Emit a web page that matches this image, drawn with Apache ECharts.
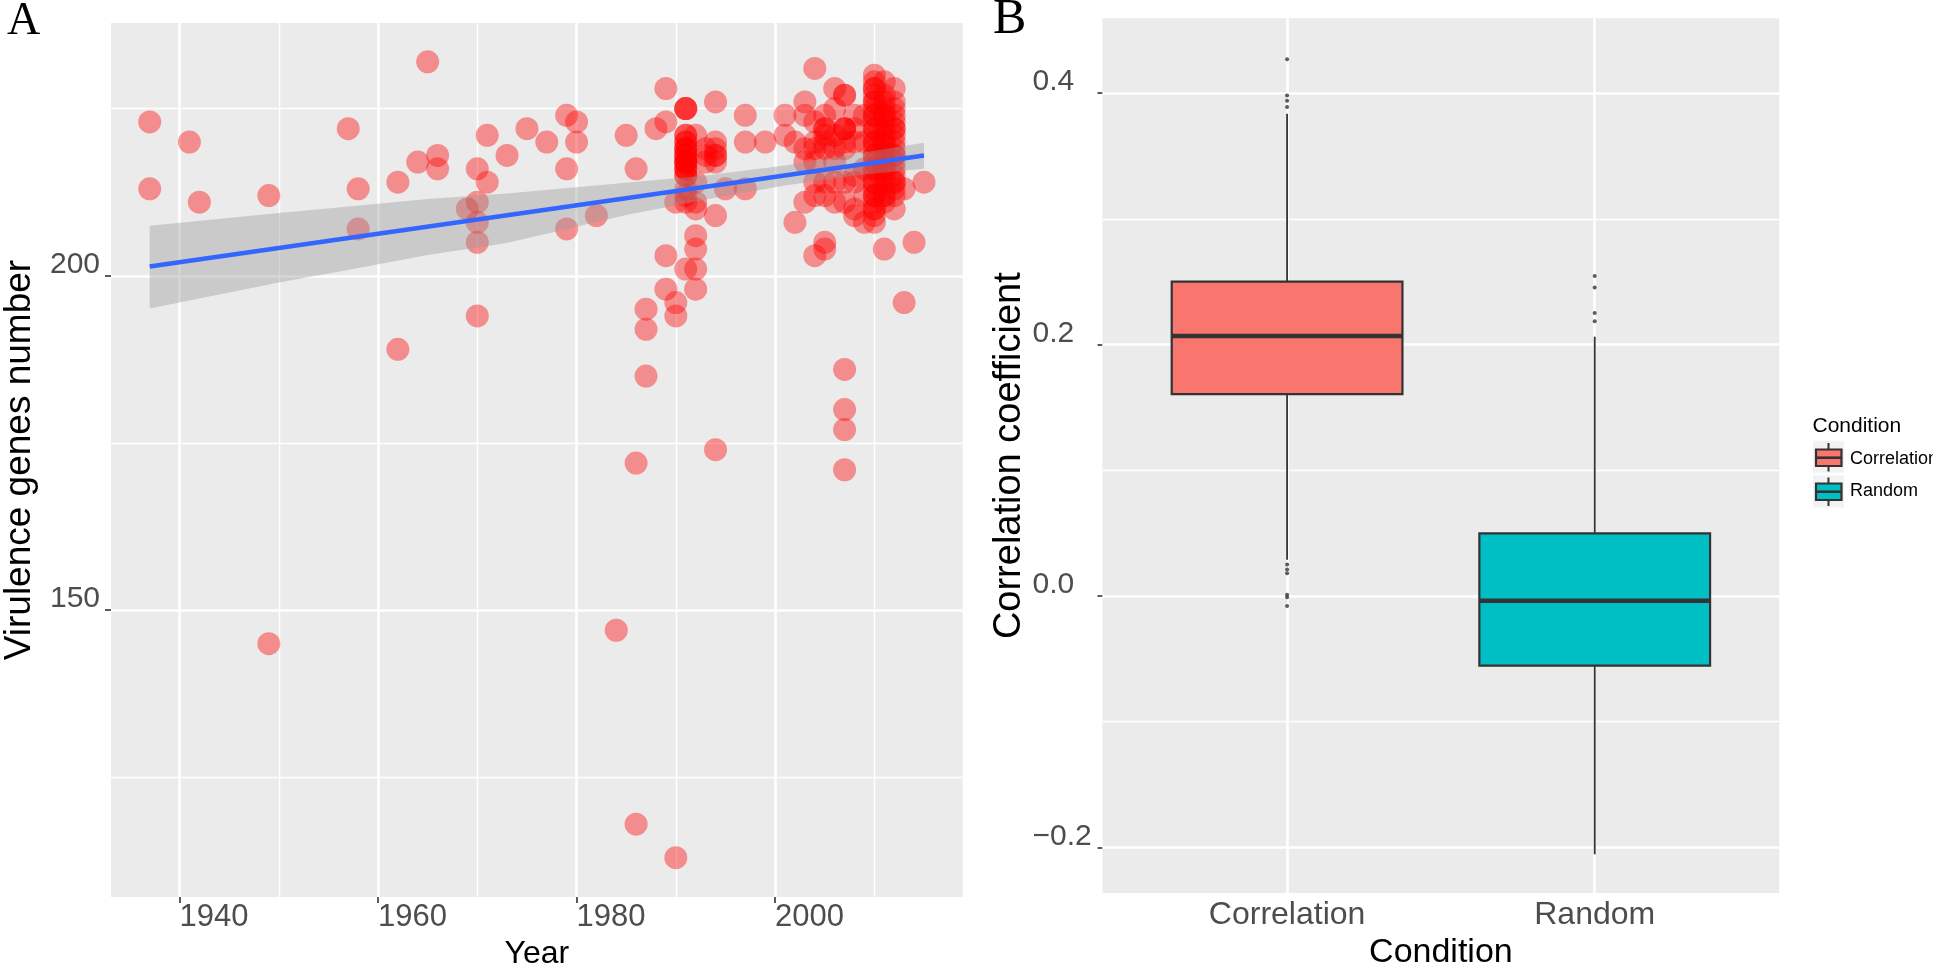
<!DOCTYPE html>
<html>
<head>
<meta charset="utf-8">
<script src="https://cdn.jsdelivr.net/npm/echarts@6/dist/echarts.min.js"></script>
<style>
html,body{margin:0;padding:0;background:#ffffff;}
#chart{width:1933px;height:975px;}
</style>
</head>
<body>
<div id="chart"></div>
<script>
// ---------------- Panel A data ----------------
const yearTicks = [1940, 1960, 1980, 2000];
const yearMinorLines = [1950, 1970, 1990, 2010];
const geneTicks = [150, 200];
const geneMinorLines = [125, 175, 225];

const virulencePoints = [
  [1937,223],[1937,213],[1941,220],[1942,211],[1949,212],[1949,145],
  [1957,222],[1958,213],[1958,207],[1962,214],[1962,189],[1964,217],[1965,232],[1966,218],[1966,216],
  [1969,210],[1970,216],[1970,211],[1970,208],[1970,205],[1970,194],[1971,221],[1971,214],
  [1973,218],[1975,222],[1977,220],[1979,224],[1979,216],[1979,207],[1980,223],[1980,220],[1982,209],
  [1984,147],[1985,221],[1986,216],[1986,172],[1986,118],[1987,195],[1987,192],[1987,185],
  [1988,222],[1989,228],[1989,223],[1989,203],[1989,198],
  [1990,211],[1990,196],[1990,194],[1990,113],
  [1991,225],[1991,225],[1991,225],[1991,221],[1991,220],[1991,219],[1991,218],[1991,218],[1991,217],
  [1991,217],[1991,216],[1991,216],[1991,215],[1991,213],[1991,212],[1991,211],[1991,201],
  [1991,221],[1991,220],[1991,219],[1991,218],[1991,217],[1991,216],[1991,215],[1991,219],[1991,217],
  [1992,221],[1992,214],[1992,211],[1992,210],[1992,206],[1992,204],[1992,201],[1992,198],
  [1993,219],[1993,218],[1993,217],
  [1994,226],[1994,220],[1994,219],[1994,218],[1994,217],[1994,218],[1994,209],[1994,174],
  [1995,213],[1997,224],[1997,220],[1997,213],[1999,220],
  [2001,224],[2001,221],[2002,220],[2002,208],
  [2003,226],[2003,224],[2003,219],[2003,217],[2003,211],
  [2004,231],[2004,223],[2004,220],[2004,219],[2004,217],[2004,214],[2004,212],[2004,203],
  [2005,224],[2005,222],[2005,222],[2005,221],[2005,220],[2005,219],[2005,214],[2005,212],[2005,205],[2005,204],
  [2006,228],[2006,225],[2006,221],[2006,219],[2006,217],[2006,214],[2006,211],
  [2007,227],[2007,227],[2007,222],[2007,222],[2007,222],[2007,220],[2007,219],[2007,214],[2007,211],
  [2007,186],[2007,180],[2007,177],[2007,171],
  [2008,224],[2008,222],[2008,220],[2008,215],[2008,214],[2008,210],[2008,209],
  [2009,224],[2009,220],[2009,216],[2009,212],[2009,208],
  [2010,230],[2010,229],[2010,228],[2010,227],[2010,226],[2010,225],[2010,224],[2010,223],[2010,222],
  [2010,221],[2010,220],[2010,219],[2010,218],[2010,217],[2010,216],[2010,215],[2010,214],[2010,213],
  [2010,212],[2010,211],[2010,210],[2010,209],[2010,208],[2010,224],[2010,220],[2010,216],[2010,212],
  [2010,222],[2010,218],[2010,214],[2010,210],[2010,226],[2010,228],
  [2011,229],[2011,227],[2011,226],[2011,225],[2011,224],[2011,223],[2011,222],[2011,221],[2011,220],
  [2011,219],[2011,218],[2011,217],[2011,216],[2011,215],[2011,214],[2011,213],[2011,212],[2011,211],
  [2011,220],[2011,216],[2011,212],[2011,224],[2011,204],
  [2012,228],[2012,226],[2012,225],[2012,224],[2012,223],[2012,222],[2012,221],[2012,220],[2012,219],
  [2012,218],[2012,217],[2012,216],[2012,215],[2012,214],[2012,213],[2012,212],[2012,210],
  [2012,222],[2012,218],[2012,214],
  [2013,213],[2013,196],[2014,205],[2015,214]
];

const fitLine = [[1937, 201.4], [2015, 218.0]];
const bandYears = [1937, 1950, 1956, 1965, 1973, 1985, 1993, 2001, 2008, 2015];
const bandLower = [195.1, 199.0, 200.6, 203.1, 204.9, 209.1, 211.4, 213.5, 215.0, 216.0];
const bandUpper = [207.5, 209.4, 210.2, 211.5, 212.3, 213.9, 215.0, 216.5, 218.2, 219.9];

// ---------------- Panel B data ----------------
const conditions = ['Correlation', 'Random'];
const boxColors = ['#F8766D', '#00BFC4'];
// [lower whisker, Q1, median, Q3, upper whisker]
const correlationBox = [0.0287, 0.1605, 0.2068, 0.2500, 0.3835];
const randomBox = [-0.2055, -0.0555, -0.0039, 0.0497, 0.2062];
const correlationOutliers = [0.427, 0.398, 0.394, 0.389, 0.025, 0.021, 0.018, 0.001, -0.001, -0.008];
const randomOutliers = [0.2545, 0.2453, 0.2251, 0.2186];
const coefTicks = [-0.2, 0.0, 0.2, 0.4];
const coefMinorLines = [-0.1, 0.1, 0.3];

// ---------------- styling ----------------
const FONT = '"Liberation Sans", Arial, Helvetica, sans-serif';
const SERIF = '"Liberation Serif", "Times New Roman", serif';
const PANEL = '#EBEBEB';
const TICK = '#333333';
const LABEL = '#4D4D4D';
const MAJOR_W = 2.6, MINOR_W = 1.4;

function gridLineData(key, majors, minors) {
  return majors.map(v => ({ [key]: v, lineStyle: { width: MAJOR_W } }))
    .concat(minors.map(v => ({ [key]: v, lineStyle: { width: MINOR_W } })));
}
function markGrid(data) {
  return {
    silent: true, z: 1, symbol: ['none', 'none'], animation: false,
    label: { show: false }, emphasis: { disabled: true },
    lineStyle: { color: '#FFFFFF', type: 'solid', width: MAJOR_W },
    data: data
  };
}

const boxData = [[1].concat(correlationBox), [2].concat(randomBox)];
const outlierData = correlationOutliers.map(v => [1, v]).concat(randomOutliers.map(v => [2, v]));

const chart = echarts.init(document.getElementById('chart'), null, { renderer: 'canvas' });

const option = {
  animation: false,
  backgroundColor: '#FFFFFF',
  textStyle: { fontFamily: FONT },
  grid: [
    { left: 103, top: 23, width: 859.7, height: 884.3, show: true, backgroundColor: PANEL, borderWidth: 0 },
    { left: 1102.5, top: 18.3, width: 676.8, height: 886, show: true, backgroundColor: PANEL, borderWidth: 0 }
  ],
  xAxis: [
    {
      type: 'value', gridIndex: 0, min: 1933.1, max: 2018.9,
      name: 'Year', nameLocation: 'middle', nameGap: 40,
      nameTextStyle: { fontSize: 32, color: '#000', fontFamily: FONT },
      axisLine: { show: false }, splitLine: { show: false },
      axisTick: { show: true, length: 6, customValues: yearTicks, lineStyle: { color: TICK, width: 1.6 } },
      axisLabel: { customValues: yearTicks, fontSize: 31, color: LABEL, fontFamily: FONT, align: 'left', margin: 5,
        formatter: v => String(Math.round(v)) }
    },
    {
      type: 'value', gridIndex: 1, min: 0.4, max: 2.6,
      name: 'Condition', nameLocation: 'middle', nameGap: 40,
      nameTextStyle: { fontSize: 34, color: '#000', fontFamily: FONT },
      axisLine: { show: false }, splitLine: { show: false },
      axisTick: { show: true, length: 7, customValues: [1, 2], lineStyle: { color: TICK, width: 1.6 } },
      axisLabel: { customValues: [1, 2], fontSize: 32, color: LABEL, fontFamily: FONT, margin: 6,
        formatter: v => conditions[Math.round(v) - 1] }
    }
  ],
  yAxis: [
    {
      type: 'value', gridIndex: 0, min: 107.1, max: 237.8,
      name: 'Virulence genes number', nameLocation: 'middle', nameGap: 73,
      nameTextStyle: { fontSize: 37, color: '#000', fontFamily: FONT },
      axisLine: { show: false }, splitLine: { show: false },
      axisTick: { show: true, length: 6, customValues: geneTicks, lineStyle: { color: TICK, width: 1.6 } },
      axisLabel: { customValues: geneTicks, fontSize: 30, color: LABEL, fontFamily: FONT, margin: 11,
        verticalAlign: 'bottom', lineHeight: 22 }
    },
    {
      type: 'value', gridIndex: 1, min: -0.2364, max: 0.4595,
      name: 'Correlation coefficient', nameLocation: 'middle', nameGap: 70,
      nameTextStyle: { fontSize: 38, color: '#000', fontFamily: FONT },
      axisLine: { show: false }, splitLine: { show: false },
      axisTick: { show: true, length: 5, customValues: coefTicks, lineStyle: { color: TICK, width: 1.6 } },
      axisLabel: { customValues: coefTicks, fontSize: 30, color: LABEL, fontFamily: FONT, margin: 70,
        align: 'left', verticalAlign: 'bottom', lineHeight: 22,
        formatter: v => v.toFixed(1).replace('-', '\u2212') }
    }
  ],
  series: [
    {
      type: 'scatter', name: 'genomes', xAxisIndex: 0, yAxisIndex: 0, z: 3,
      data: virulencePoints, symbol: 'circle', symbolSize: 23,
      itemStyle: { color: 'rgba(255,0,0,0.5)' },
      emphasis: { disabled: true },
      markLine: markGrid(gridLineData('xAxis', yearTicks, yearMinorLines)
        .concat(gridLineData('yAxis', geneTicks, geneMinorLines)))
    },
    {
      type: 'custom', name: 'band', xAxisIndex: 0, yAxisIndex: 0, z: 4, silent: true,
      data: [[bandYears[0], bandLower[0]]],
      encode: { x: 0, y: 1 },
      renderItem: function (params, api) {
        const pts = [];
        for (let i = 0; i < bandYears.length; i++) pts.push(api.coord([bandYears[i], bandUpper[i]]));
        for (let i = bandYears.length - 1; i >= 0; i--) pts.push(api.coord([bandYears[i], bandLower[i]]));
        return { type: 'polygon', shape: { points: pts }, style: { fill: 'rgba(153,153,153,0.4)' } };
      }
    },
    {
      type: 'line', name: 'fit', xAxisIndex: 0, yAxisIndex: 0, z: 5, silent: true,
      data: fitLine, showSymbol: false, symbol: 'none',
      lineStyle: { color: '#3366FF', width: 4.5 }
    },
    {
      type: 'custom', name: 'boxes', xAxisIndex: 1, yAxisIndex: 1, z: 3, silent: true,
      data: boxData,
      encode: { x: 0, y: [1, 2, 3, 4, 5] },
      renderItem: function (params, api) {
        const x = api.value(0);
        const lo = api.coord([x, api.value(1)]);
        const q1 = api.coord([x, api.value(2)]);
        const md = api.coord([x, api.value(3)]);
        const q3 = api.coord([x, api.value(4)]);
        const hi = api.coord([x, api.value(5)]);
        const half = api.size([0.75, 0])[0] / 2;
        const cx = q1[0];
        const color = boxColors[params.dataIndex];
        return {
          type: 'group',
          children: [
            { type: 'line', shape: { x1: cx, y1: q3[1], x2: cx, y2: hi[1] }, style: { stroke: TICK, lineWidth: 1.8 } },
            { type: 'line', shape: { x1: cx, y1: q1[1], x2: cx, y2: lo[1] }, style: { stroke: TICK, lineWidth: 1.8 } },
            { type: 'rect', shape: { x: cx - half, y: q3[1], width: 2 * half, height: q1[1] - q3[1] },
              style: { fill: color, stroke: TICK, lineWidth: 2.2 } },
            { type: 'line', shape: { x1: cx - half, y1: md[1], x2: cx + half, y2: md[1] },
              style: { stroke: TICK, lineWidth: 4.5 } }
          ]
        };
      },
      markLine: markGrid(gridLineData('xAxis', [1, 2], [])
        .concat(gridLineData('yAxis', coefTicks, coefMinorLines)))
    },
    {
      type: 'scatter', name: 'outliers', xAxisIndex: 1, yAxisIndex: 1, z: 4, silent: true,
      data: outlierData, symbolSize: 4, itemStyle: { color: TICK }
    }
  ],
  graphic: [
    { type: 'text', x: 7, y: 22, style: { text: 'A', font: '46px ' + SERIF, fill: '#000', verticalAlign: 'middle', textVerticalAlign: 'middle' } },
    { type: 'text', x: 993, y: 20, style: { text: 'B', font: '50px ' + SERIF, fill: '#000', verticalAlign: 'middle', textVerticalAlign: 'middle' } },
    // legend
    { type: 'text', x: 1812.5, y: 426, style: { text: 'Condition', font: '21px ' + FONT, fill: '#000', verticalAlign: 'middle', textVerticalAlign: 'middle' } },
    { type: 'rect', shape: { x: 1813, y: 440.7, width: 31, height: 32 }, style: { fill: '#F2F2F2' } },
    { type: 'rect', shape: { x: 1813, y: 475.5, width: 31, height: 32 }, style: { fill: '#F2F2F2' } },
    { type: 'line', shape: { x1: 1828.5, y1: 443, x2: 1828.5, y2: 471.5 }, style: { stroke: TICK, lineWidth: 2 } },
    { type: 'rect', shape: { x: 1816, y: 449.5, width: 25.5, height: 16.5 }, style: { fill: boxColors[0], stroke: TICK, lineWidth: 2.2 } },
    { type: 'line', shape: { x1: 1816, y1: 457.7, x2: 1841.5, y2: 457.7 }, style: { stroke: TICK, lineWidth: 2.6 } },
    { type: 'line', shape: { x1: 1828.5, y1: 477.5, x2: 1828.5, y2: 506 }, style: { stroke: TICK, lineWidth: 2 } },
    { type: 'rect', shape: { x: 1816, y: 483.5, width: 25.5, height: 16.5 }, style: { fill: boxColors[1], stroke: TICK, lineWidth: 2.2 } },
    { type: 'line', shape: { x1: 1816, y1: 491.7, x2: 1841.5, y2: 491.7 }, style: { stroke: TICK, lineWidth: 2.6 } },
    { type: 'text', x: 1850, y: 459, style: { text: conditions[0], font: '18px ' + FONT, fill: '#000', verticalAlign: 'middle', textVerticalAlign: 'middle' } },
    { type: 'text', x: 1850, y: 491, style: { text: conditions[1], font: '18px ' + FONT, fill: '#000', verticalAlign: 'middle', textVerticalAlign: 'middle' } }
  ]
};

chart.setOption(option);
</script>
</body>
</html>
